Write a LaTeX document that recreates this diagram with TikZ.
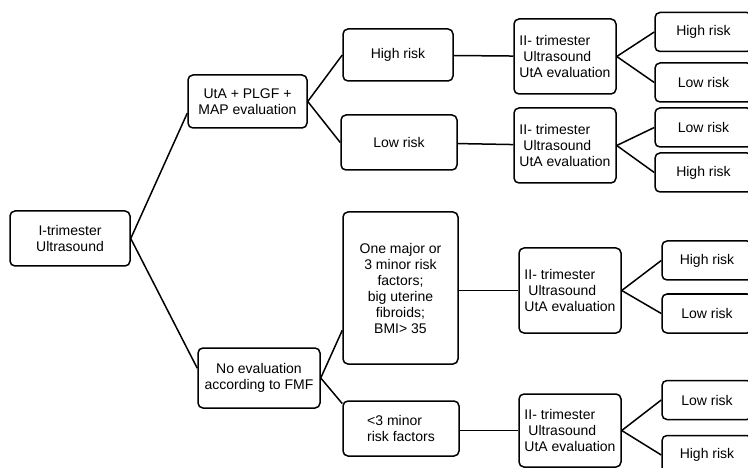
\documentclass[tikz,border=0pt]{standalone}
\usepackage{fontspec}
\setmainfont{Liberation Sans}
\usepackage{tikz}
\usetikzlibrary{arrows.meta}

\begin{document}
\begin{tikzpicture}[
  x=1pt, y=-1pt,
  font=\fontsize{14}{16}\selectfont,
  card/.style={draw=black, line width=1.5pt, rounded corners=5pt, align=center,
               inner sep=0pt, fill=white},
  riskbox/.style={card, minimum height=39pt},
  echo/.style={card, align=left, minimum width=102pt},
  link/.style={line width=1.5pt, draw=black}
]
\clip (0,0) rectangle (748,468);
\fill[white] (0,0) rectangle (748,468);

\node[card, minimum width=120pt, minimum height=55pt] (first) at (70,238.5)
  {I-trimester\\Ultrasound};
\node[card, minimum width=119pt, minimum height=53pt] (screen) at (247.5,101.5)
  {UtA + PLGF +\\MAP evaluation};
\node[card, minimum width=122pt, minimum height=60pt] (noeval) at (259,378)
  {No evaluation\\according to FMF};

\node[card, minimum width=110pt, minimum height=52pt] (hione) at (398,55) {High risk};
\node[card, minimum width=116pt, minimum height=55pt] (loone) at (399,142.5) {Low risk};
\node[card, minimum width=115pt, minimum height=152pt] (major) at (400.5,288)
  {One major or\\3 minor risk\\factors;\\big uterine\\fibroids;\\BMI> 35};
\node[card, align=left, minimum width=116pt, minimum height=55pt] (minor) at (401,428.5)
  {<3 minor\\risk factors};

\node[echo, minimum height=75pt] (secA) at (565,56.5)
  {II- trimester\\\hspace{4pt}Ultrasound\\UtA evaluation};
\node[echo, minimum height=75pt] (secB) at (565,145.5)
  {II- trimester\\\hspace{4pt}Ultrasound\\UtA evaluation};
\node[echo, minimum height=85pt] (secC) at (570,290.5)
  {II- trimester\\\hspace{4pt}Ultrasound\\UtA evaluation};
\node[echo, minimum height=73pt] (secD) at (570,430.5)
  {II- trimester\\\hspace{4pt}Ultrasound\\UtA evaluation};

\node[riskbox, minimum width=97pt] (outAhi) at (703.5,32) {High risk};
\node[riskbox, minimum width=97pt] (outAlo) at (703.5,82.5) {Low risk};
\node[riskbox, minimum width=97pt] (outBlo) at (703.5,127.5) {Low risk};
\node[riskbox, minimum width=97pt] (outBhi) at (703.5,172.5) {High risk};
\node[riskbox, minimum width=90pt] (outChi) at (707,260.5) {High risk};
\node[riskbox, minimum width=90pt] (outClo) at (707,313.5) {Low risk};
\node[riskbox, minimum width=90pt] (outDlo) at (707,400) {Low risk};
\node[riskbox, minimum width=90pt] (outDhi) at (707,455) {High risk};

\draw[link] (first.east) -- (screen.191);
\draw[link] (first.east) -- (noeval.171);
\draw[link] (screen.east) -- (hione.west);
\draw[link] (screen.east) -- (loone.west);
\draw[link] (noeval.east) -- (major.216);
\draw[link] (noeval.east) -- (minor.157);

\draw[link] (hione) -- (secA);
\draw[link] (loone) -- (secB);
\draw[link] (major.east |- secC.west) -- (secC.west);
\draw[link] (minor.east |- secD.west) -- (secD.west);

\draw[link] (secA.east) -- (outAhi.west);
\draw[link] (secA.east) -- (outAlo.west);
\draw[link] (secB.east) -- (outBlo.west);
\draw[link] (secB.east) -- (outBhi.west);
\draw[link] (secC.east) -- (outChi.west);
\draw[link] (secC.east) -- (outClo.west);
\draw[link] (secD.east) -- (outDlo.west);
\draw[link] (secD.east) -- (outDhi.west);
\end{tikzpicture}
\end{document}
